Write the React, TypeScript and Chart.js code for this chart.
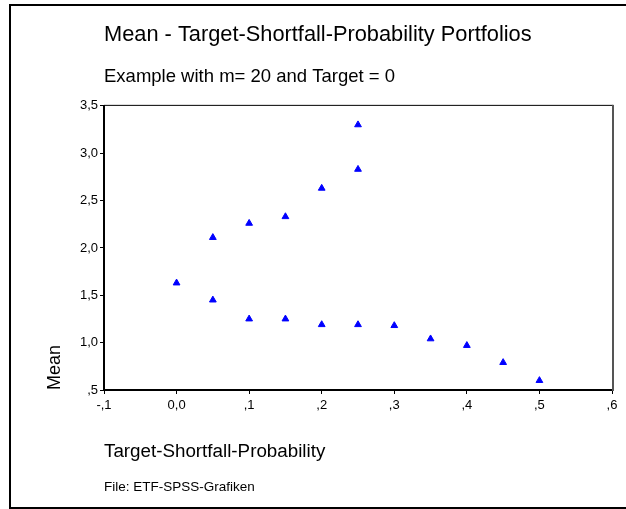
import React, { useEffect, useRef } from "react";
import { Chart, registerables } from "chart.js";

Chart.register(...registerables);

const shortfallProbability = [0.0, 0.05, 0.05, 0.1, 0.1, 0.15, 0.15, 0.2, 0.2, 0.25, 0.25, 0.25, 0.3, 0.35, 0.4, 0.45, 0.5];
const meanValues = [1.63, 2.11, 1.45, 2.26, 1.25, 2.33, 1.25, 2.63, 1.19, 3.3, 2.83, 1.19, 1.18, 1.04, 0.97, 0.79, 0.6];

const xTickValues = [-0.1, 0, 0.1, 0.2, 0.3, 0.4, 0.5, 0.6];
const xTickLabels = ["-,1", "0,0", ",1", ",2", ",3", ",4", ",5", ",6"];
const yTickValues = [0.5, 1, 1.5, 2, 2.5, 3, 3.5];
const yTickLabels = [",5", "1,0", "1,5", "2,0", "2,5", "3,0", "3,5"];

const titleText = "Mean - Target-Shortfall-Probability Portfolios";
const subtitleText = "Example with m= 20 and Target = 0";
const xTitle = "Target-Shortfall-Probability";
const yTitle = "Mean";
const footnote = "File: ETF-SPSS-Grafiken";

const FONT = '"Liberation Sans", Arial, sans-serif';

const framePlugin = {
  id: "spssFrame",
  afterDraw(chart: any) {
    const { ctx, chartArea: a } = chart;
    ctx.save();
    ctx.fillStyle = "#000";
    // outer frame (left, top, bottom)
    ctx.fillRect(9, 4, 617, 2);
    ctx.fillRect(9, 4, 2, 505);
    ctx.fillRect(9, 507, 617, 2);
    // plot box top
    ctx.fillRect(a.left, a.top - 1, a.right - a.left + 1, 1);
    // plot box right (grey)
    ctx.fillStyle = "#555";
    ctx.fillRect(a.right, a.top - 1, 2, a.bottom - a.top + 2);
    // footnote
    ctx.fillStyle = "#000";
    ctx.font = `13.5px ${FONT}`;
    ctx.textAlign = "left";
    ctx.textBaseline = "middle";
    ctx.fillText(footnote, a.left, 487.5);
    ctx.restore();
  },
};

export default function App() {
  const ref = useRef<HTMLCanvasElement | null>(null);

  useEffect(() => {
    if (!ref.current) return;
    const chart = new Chart(ref.current, {
      type: "scatter",
      data: {
        datasets: [
          {
            label: yTitle,
            data: shortfallProbability.map((x, i) => ({ x, y: meanValues[i] })),
            pointStyle: "triangle",
            pointRadius: 3.9,
            pointBorderWidth: 1,
            backgroundColor: "#0000ff",
            borderColor: "#0000ff",
          },
        ],
      },
      options: {
        responsive: false,
        animation: false,
        devicePixelRatio: 1,
        layout: { padding: { left: 0, right: 14, top: 0, bottom: 0 } },
        plugins: {
          legend: { display: false },
          tooltip: { enabled: false },
          title: {
            display: true,
            text: titleText,
            align: "start",
            fullSize: false,
            color: "#000",
            font: { family: FONT, size: 21.8, weight: "normal", lineHeight: 1.2 },
            padding: { top: 21.5, bottom: 0 },
          },
          subtitle: {
            display: true,
            text: subtitleText,
            align: "start",
            fullSize: false,
            color: "#000",
            font: { family: FONT, size: 18.5, weight: "normal", lineHeight: 1.2 },
            padding: { top: 18.6, bottom: 17.4 },
          },
        },
        scales: {
          x: {
            type: "linear",
            position: "bottom",
            min: -0.1,
            max: 0.6,
            afterBuildTicks: (scale: any) => {
              scale.ticks = xTickValues.map((v) => ({ value: v }));
            },
            afterFit: (scale: any) => {
              scale.height = 119;
            },
            ticks: {
              autoSkip: false,
              maxRotation: 0,
              color: "#000",
              padding: 4,
              font: { family: FONT, size: 13 },
              callback: (_v: any, i: number) => xTickLabels[i],
            },
            grid: {
              drawOnChartArea: false,
              drawTicks: true,
              tickLength: 4,
              color: "#000",
              lineWidth: 1,
            },
            border: { display: true, color: "#000", width: 2 },
            title: {
              display: true,
              text: xTitle,
              align: "start",
              color: "#000",
              font: { family: FONT, size: 18.8, lineHeight: 1.2 },
              padding: { top: 0, bottom: 45.5 },
            },
          },
          y: {
            type: "linear",
            min: 0.5,
            max: 3.5,
            afterBuildTicks: (scale: any) => {
              scale.ticks = yTickValues.map((v) => ({ value: v }));
            },
            afterFit: (scale: any) => {
              scale.width = 104;
            },
            ticks: {
              autoSkip: false,
              color: "#000",
              padding: 2,
              font: { family: FONT, size: 13 },
              callback: (_v: any, i: number) => yTickLabels[i],
            },
            grid: {
              drawOnChartArea: false,
              drawTicks: true,
              tickLength: 4,
              color: "#000",
              lineWidth: 1,
            },
            border: { display: true, color: "#000", width: 2 },
            title: {
              display: true,
              text: yTitle,
              align: "start",
              color: "#000",
              font: { family: FONT, size: 18, lineHeight: 1.2 },
              padding: { top: 44, bottom: 0 },
            },
          },
        },
      },
      plugins: [framePlugin],
    });
    return () => chart.destroy();
  }, []);

  return (
    <div style={{ position: "fixed", left: 0, top: 0, width: 626, height: 509, background: "#fff" }}>
      <canvas ref={ref} width={626} height={509} style={{ display: "block" }} />
    </div>
  );
}
